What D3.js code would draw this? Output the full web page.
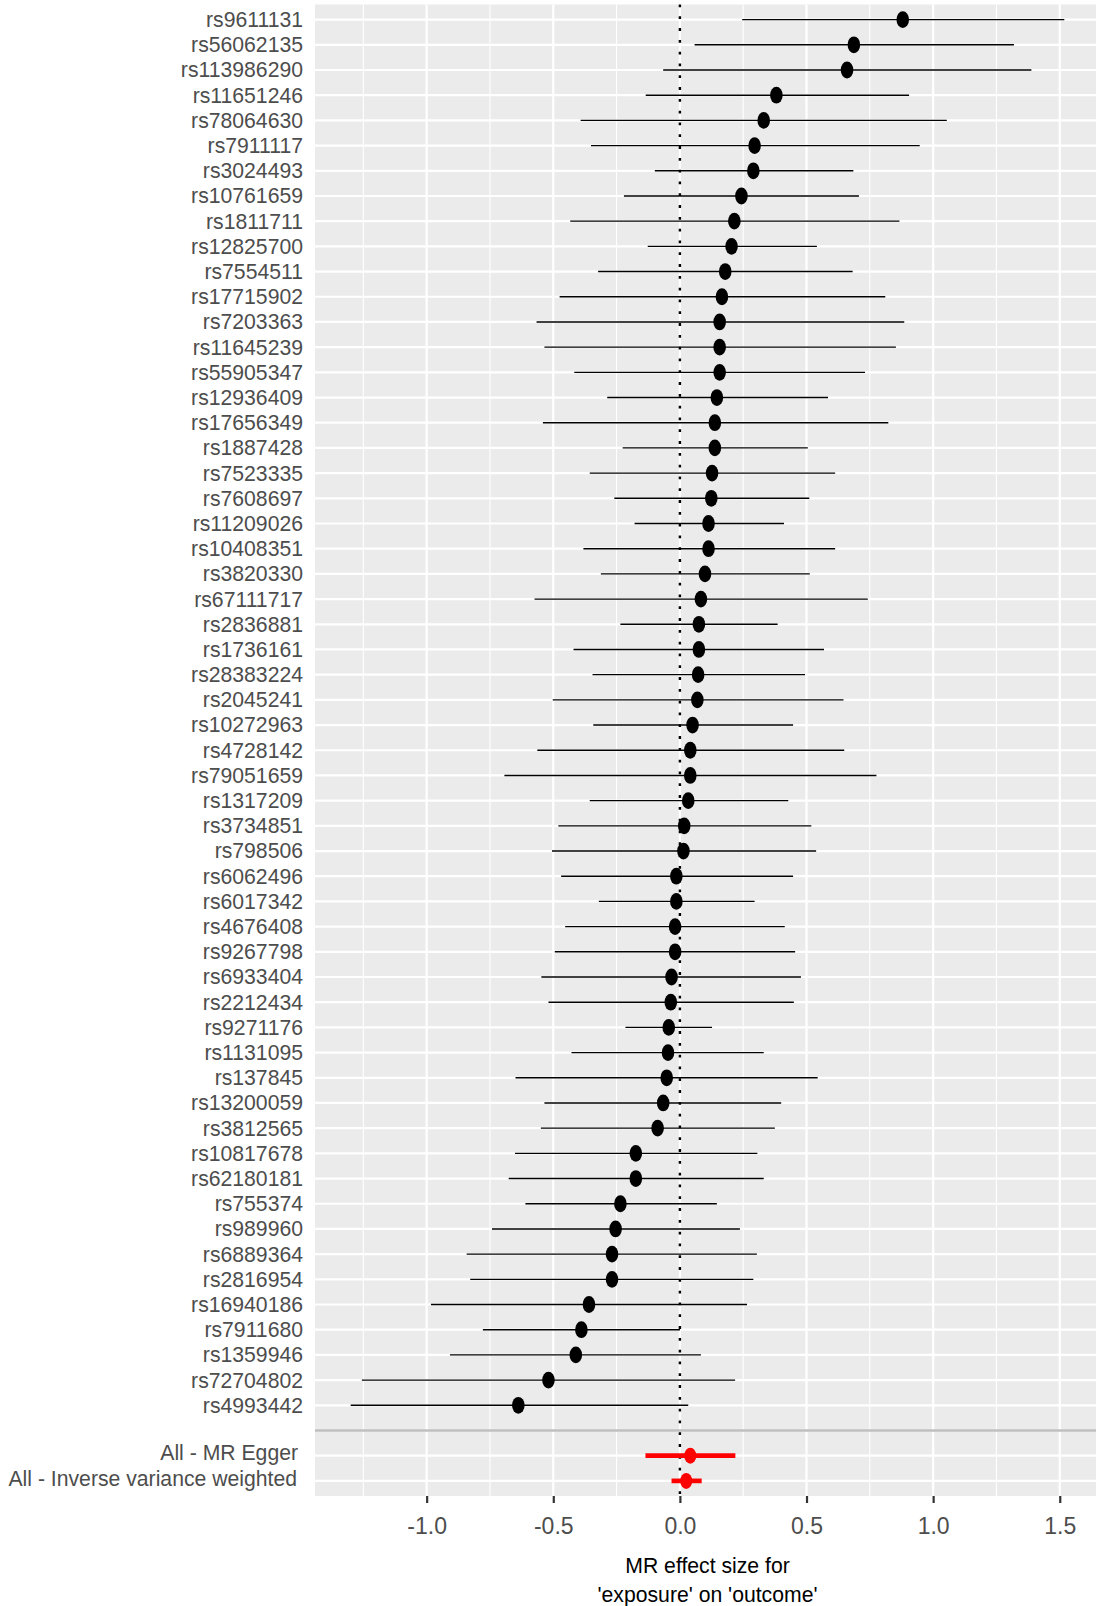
<!DOCTYPE html>
<html>
<head>
<meta charset="utf-8">
<script src="https://cdn.jsdelivr.net/npm/d3@7"></script>
<style>
  body { margin: 0; background: #fff; }
  text { font-family: 'Liberation Sans', Arial, Helvetica, sans-serif; }
</style>
</head>
<body>
<div class="forest"></div>
<script>
const width = 1096;
const height = 1606;
const panelLeft = 315;
const panelRight = 1100;
const panelTop = 4.5;
const panelBottom = 1496;

// SNP estimates, top row first
const snps = [
  'rs9611131', 'rs56062135', 'rs113986290', 'rs11651246', 'rs78064630',
  'rs7911117', 'rs3024493', 'rs10761659', 'rs1811711', 'rs12825700',
  'rs7554511', 'rs17715902', 'rs7203363', 'rs11645239', 'rs55905347',
  'rs12936409', 'rs17656349', 'rs1887428', 'rs7523335', 'rs7608697',
  'rs11209026', 'rs10408351', 'rs3820330', 'rs67111717', 'rs2836881',
  'rs1736161', 'rs28383224', 'rs2045241', 'rs10272963', 'rs4728142',
  'rs79051659', 'rs1317209', 'rs3734851', 'rs798506', 'rs6062496',
  'rs6017342', 'rs4676408', 'rs9267798', 'rs6933404', 'rs2212434',
  'rs9271176', 'rs1131095', 'rs137845', 'rs13200059', 'rs3812565',
  'rs10817678', 'rs62180181', 'rs755374', 'rs989960', 'rs6889364',
  'rs2816954', 'rs16940186', 'rs7911680', 'rs1359946', 'rs72704802',
  'rs4993442',
];
const snpB = [
  0.880, 0.687, 0.660, 0.381, 0.331, 0.295, 0.290, 0.243, 0.215, 0.204,
  0.179, 0.166, 0.157, 0.157, 0.157, 0.146, 0.138, 0.138, 0.127, 0.124,
  0.113, 0.113, 0.099, 0.083, 0.075, 0.075, 0.072, 0.069, 0.050, 0.041,
  0.041, 0.033, 0.017, 0.014, -0.014, -0.014, -0.019, -0.019, -0.033, -0.036,
  -0.044, -0.047, -0.052, -0.066, -0.088, -0.174, -0.174, -0.235, -0.254, -0.268,
  -0.268, -0.359, -0.389, -0.411, -0.519, -0.638,
];
const snpLo = [
  0.246, 0.058, -0.066, -0.135, -0.392, -0.351, -0.099, -0.221, -0.433, -0.127,
  -0.323, -0.475, -0.566, -0.535, -0.417, -0.287, -0.541, -0.226, -0.356, -0.259,
  -0.179, -0.381, -0.312, -0.574, -0.235, -0.420, -0.345, -0.502, -0.342, -0.563,
  -0.693, -0.356, -0.480, -0.505, -0.469, -0.320, -0.453, -0.494, -0.547, -0.519,
  -0.215, -0.428, -0.649, -0.535, -0.549, -0.651, -0.676, -0.610, -0.742, -0.842,
  -0.828, -0.983, -0.778, -0.908, -1.256, -1.300,
];
const snpUp = [
  1.518, 1.319, 1.388, 0.905, 1.054, 0.947, 0.685, 0.707, 0.867, 0.541,
  0.682, 0.811, 0.886, 0.853, 0.731, 0.585, 0.823, 0.505, 0.613, 0.511,
  0.411, 0.613, 0.513, 0.742, 0.386, 0.569, 0.494, 0.646, 0.447, 0.649,
  0.776, 0.428, 0.519, 0.538, 0.447, 0.295, 0.414, 0.455, 0.478, 0.450,
  0.127, 0.331, 0.544, 0.400, 0.375, 0.306, 0.331, 0.146, 0.237, 0.304,
  0.290, 0.265, 0.000, 0.083, 0.218, 0.033,
];

// summary estimates
const methods = ['All - MR Egger', 'All - Inverse variance weighted'];
const methodB = [0.041, 0.025];
const methodLo = [-0.136, -0.033];
const methodUp = [0.219, 0.086];

const xTicks = [-1.0, -0.5, 0.0, 0.5, 1.0, 1.5];
const xMinor = [-1.25, -0.75, -0.25, 0.25, 0.75, 1.25];

const snpRows = snps.map((s, i) => ({ label: s, b: snpB[i], lo: snpLo[i], up: snpUp[i] }));
const methodRows = methods.map((m, i) => ({ label: m, b: methodB[i], lo: methodLo[i], up: methodUp[i] }));
const levels = [...snps, '', ...methods];

const svg = d3
  .select('.forest')
  .append('svg')
  .attr('width', width)
  .attr('height', height);

// Scales (5% expansion like ggplot)
const allLo = d3.min([...snpLo, ...methodLo]);
const allUp = d3.max([...snpUp, ...methodUp]);
const pad = (allUp - allLo) * 0.05;
const xScale = d3
  .scaleLinear()
  .domain([allLo - pad, allUp + pad])
  .range([panelLeft, panelRight]);

const yScale = d3
  .scalePoint()
  .domain(levels)
  .range([panelTop, panelBottom])
  .padding(0.6);

// Panel
svg
  .append('rect')
  .attr('x', panelLeft)
  .attr('y', panelTop)
  .attr('width', panelRight - panelLeft)
  .attr('height', panelBottom - panelTop)
  .attr('fill', '#ebebeb');

const grid = svg.append('g');
grid
  .selectAll('.minor')
  .data(xMinor)
  .enter()
  .append('line')
  .attr('x1', (d) => xScale(d))
  .attr('x2', (d) => xScale(d))
  .attr('y1', panelTop)
  .attr('y2', panelBottom)
  .attr('stroke', '#fff')
  .attr('stroke-width', 1.1);
grid
  .selectAll('.major')
  .data(xTicks)
  .enter()
  .append('line')
  .attr('x1', (d) => xScale(d))
  .attr('x2', (d) => xScale(d))
  .attr('y1', panelTop)
  .attr('y2', panelBottom)
  .attr('stroke', '#fff')
  .attr('stroke-width', 2.2);
grid
  .selectAll('.row')
  .data(levels)
  .enter()
  .append('line')
  .attr('x1', panelLeft)
  .attr('x2', panelRight)
  .attr('y1', (d) => yScale(d))
  .attr('y2', (d) => yScale(d))
  .attr('stroke', '#fff')
  .attr('stroke-width', 2.2);

// separator row
svg
  .append('line')
  .attr('x1', panelLeft)
  .attr('x2', panelRight)
  .attr('y1', yScale(''))
  .attr('y2', yScale(''))
  .attr('stroke', '#bebebe')
  .attr('stroke-width', 2.5);

// zero line
svg
  .append('line')
  .attr('x1', xScale(0))
  .attr('x2', xScale(0))
  .attr('y1', panelTop)
  .attr('y2', panelBottom)
  .attr('stroke', '#000')
  .attr('stroke-width', 2.4)
  .attr('stroke-dasharray', '2.8,9');

// SNP intervals + points
const snpG = svg.append('g');
snpG
  .selectAll('line')
  .data(snpRows)
  .enter()
  .append('line')
  .attr('x1', (d) => xScale(d.lo))
  .attr('x2', (d) => xScale(d.up))
  .attr('y1', (d) => yScale(d.label))
  .attr('y2', (d) => yScale(d.label))
  .attr('stroke', '#000')
  .attr('stroke-width', 1.4);
snpG
  .selectAll('ellipse')
  .data(snpRows)
  .enter()
  .append('ellipse')
  .attr('cx', (d) => xScale(d.b))
  .attr('cy', (d) => yScale(d.label))
  .attr('rx', 6.3)
  .attr('ry', 8.4)
  .attr('fill', '#000');

// Summary intervals + points
const sumG = svg.append('g');
sumG
  .selectAll('line')
  .data(methodRows)
  .enter()
  .append('line')
  .attr('x1', (d) => xScale(d.lo))
  .attr('x2', (d) => xScale(d.up))
  .attr('y1', (d) => yScale(d.label))
  .attr('y2', (d) => yScale(d.label))
  .attr('stroke', '#ff0000')
  .attr('stroke-width', 4.7);
sumG
  .selectAll('ellipse')
  .data(methodRows)
  .enter()
  .append('ellipse')
  .attr('cx', (d) => xScale(d.b))
  .attr('cy', (d) => yScale(d.label))
  .attr('rx', 6)
  .attr('ry', 8)
  .attr('fill', '#ff0000');

// Y labels
const labelShift = { 'All - MR Egger': -5, 'All - Inverse variance weighted': -6 };
svg
  .append('g')
  .selectAll('text')
  .data(levels.filter((d) => d !== ''))
  .enter()
  .append('text')
  .text((d) => d)
  .attr('x', (d) => 303 + (labelShift[d] || 0))
  .attr('y', (d) => yScale(d))
  .attr('dy', (d) => (labelShift[d] ? '0.22em' : '0.35em'))
  .attr('text-anchor', 'end')
  .attr('font-size', 21.2)
  .attr('fill', '#4d4d4d');

// X axis
const xAxis = d3
  .axisBottom(xScale)
  .tickValues(xTicks)
  .tickFormat((d) => d.toFixed(1))
  .tickSize(7)
  .tickSizeOuter(0);
const axisG = svg
  .append('g')
  .attr('transform', `translate(0, ${panelBottom})`)
  .call(xAxis);
axisG.select('.domain').remove();
axisG.selectAll('line').attr('stroke', '#333').attr('stroke-width', 2.2);
axisG
  .selectAll('text')
  .attr('y', 37.5)
  .attr('dy', 0)
  .attr('font-size', 23)
  .attr('fill', '#4d4d4d')
  .attr('font-family', "'Liberation Sans', Arial, sans-serif");

// X axis title
const xCenter = (panelLeft + panelRight) / 2;
svg
  .append('text')
  .text('MR effect size for')
  .attr('x', xCenter)
  .attr('y', 1573)
  .attr('text-anchor', 'middle')
  .attr('font-size', 21.2)
  .attr('fill', '#000');
svg
  .append('text')
  .text("'exposure' on 'outcome'")
  .attr('x', xCenter)
  .attr('y', 1601.5)
  .attr('text-anchor', 'middle')
  .attr('font-size', 21.2)
  .attr('fill', '#000');
</script>
</body>
</html>
